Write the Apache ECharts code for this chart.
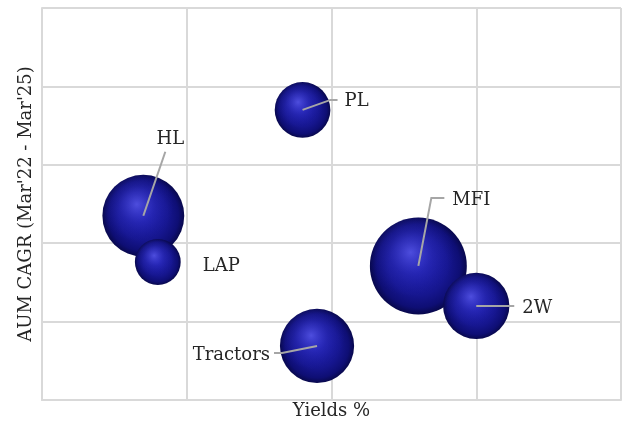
<!DOCTYPE html>
<html>
<head>
<meta charset="utf-8">
<script src="https://cdn.jsdelivr.net/npm/echarts@6/dist/echarts.min.js"></script>
<style>
  html, body { margin: 0; padding: 0; background: #ffffff; }
  #chart { width: 624px; height: 421px; }
</style>
</head>
<body>
<div id="chart"></div>
<script>
// Lending segments: yield (x), AUM CAGR (y), bubble size (relative AUM)
const segments = ['HL', 'LAP', 'PL', 'MFI', '2W', 'Tractors'];
const yields   = [13.5, 14.0, 19.0, 23.0, 25.0, 19.5];
const aumCagr  = [23.5, 17.6, 37.0, 17.1, 12.0, 6.9];
const aumSize  = [67, 21, 31, 94, 44, 55];

// Label placement per segment: leader-line points and text anchor, in pixels from the bubble centre
const labelLayout = {
  'HL':       { line: [[0, 0], [22, -64]],            text: [27, -76],  align: 'center' },
  'LAP':      { line: null,                           text: [45, 4],    align: 'left' },
  'PL':       { line: [[0, 0], [28, -10], [35, -10]], text: [42, -9],   align: 'left' },
  'MFI':      { line: [[0, 0], [13, -68], [26, -68]], text: [34, -66],  align: 'left' },
  '2W':       { line: [[0, 0], [38, 0]],              text: [46, 2],    align: 'left' },
  'Tractors': { line: [[0, 0], [-35, 7], [-43, 7]],   text: [-47, 9],   align: 'right' }
};

const points = segments.map((s, i) => [yields[i], aumCagr[i], aumSize[i], s]);

const FONT = 'DejaVu Serif';
const GRID_COLOR = '#d9d9d9';

const sizeOf = v => Math.sqrt(v[2]) * 10;

const chart = echarts.init(document.getElementById('chart'), null, { renderer: 'canvas' });

chart.setOption({
  animation: false,
  backgroundColor: '#ffffff',
  grid: { left: 42, right: 3, top: 8, bottom: 21, containLabel: false, outerBoundsMode: 'none' },
  xAxis: {
    type: 'value', min: 10, max: 30, interval: 5,
    name: 'Yields %', nameLocation: 'middle', nameGap: 2,
    nameTextStyle: { fontFamily: FONT, fontSize: 18, color: '#262626' },
    axisLine: { show: true, lineStyle: { color: GRID_COLOR, width: 2 } },
    axisTick: { show: false },
    axisLabel: { show: false },
    splitLine: { show: true, lineStyle: { color: GRID_COLOR, width: 2 } }
  },
  yAxis: {
    type: 'value', min: 0, max: 50, interval: 10,
    name: "AUM CAGR (Mar'22 - Mar'25)", nameLocation: 'middle', nameGap: 7,
    nameTextStyle: { fontFamily: FONT, fontSize: 18, color: '#262626' },
    axisLine: { show: true, lineStyle: { color: GRID_COLOR, width: 2 } },
    axisTick: { show: false },
    axisLabel: { show: false },
    splitLine: { show: true, lineStyle: { color: GRID_COLOR, width: 2 } }
  },
  series: [
    {
      // sphere body with darkened rim
      type: 'scatter',
      data: points,
      symbolSize: sizeOf,
      itemStyle: {
        opacity: 1,
        color: {
          type: 'radial', x: 0.5, y: 0.5, r: 0.5,
          colorStops: [
            { offset: 0, color: '#1e1ea8' },
            { offset: 0.6, color: '#16168f' },
            { offset: 0.86, color: '#0e0e74' },
            { offset: 1, color: '#08084c' }
          ]
        }
      },
      emphasis: { disabled: true },
      z: 2
    },
    {
      // soft specular highlight towards the upper left
      type: 'scatter',
      data: points,
      symbolSize: sizeOf,
      itemStyle: {
        opacity: 1,
        color: {
          type: 'radial', x: 0.42, y: 0.36, r: 0.45,
          colorStops: [
            { offset: 0, color: 'rgba(100,100,250,0.7)' },
            { offset: 0.5, color: 'rgba(60,60,220,0.3)' },
            { offset: 1, color: 'rgba(40,40,200,0)' }
          ]
        }
      },
      emphasis: { disabled: true },
      z: 3
    },
    {
      // leader lines and segment names
      type: 'custom',
      data: points,
      z: 4,
      renderItem: function (params, api) {
        const c = api.coord([api.value(0), api.value(1)]);
        const name = segments[params.dataIndex];
        const lay = labelLayout[name];
        const children = [];
        if (lay.line) {
          children.push({
            type: 'polyline',
            shape: { points: lay.line.map(p => [c[0] + p[0], c[1] + p[1]]) },
            style: { stroke: '#a6a6a6', lineWidth: 2, fill: null }
          });
        }
        children.push({
          type: 'text',
          x: c[0] + lay.text[0], y: c[1] + lay.text[1],
          style: {
            text: name, fontFamily: FONT, fontSize: 18, fill: '#262626',
            align: lay.align, verticalAlign: 'middle'
          }
        });
        return { type: 'group', children: children };
      }
    }
  ]
});
</script>
</body>
</html>
